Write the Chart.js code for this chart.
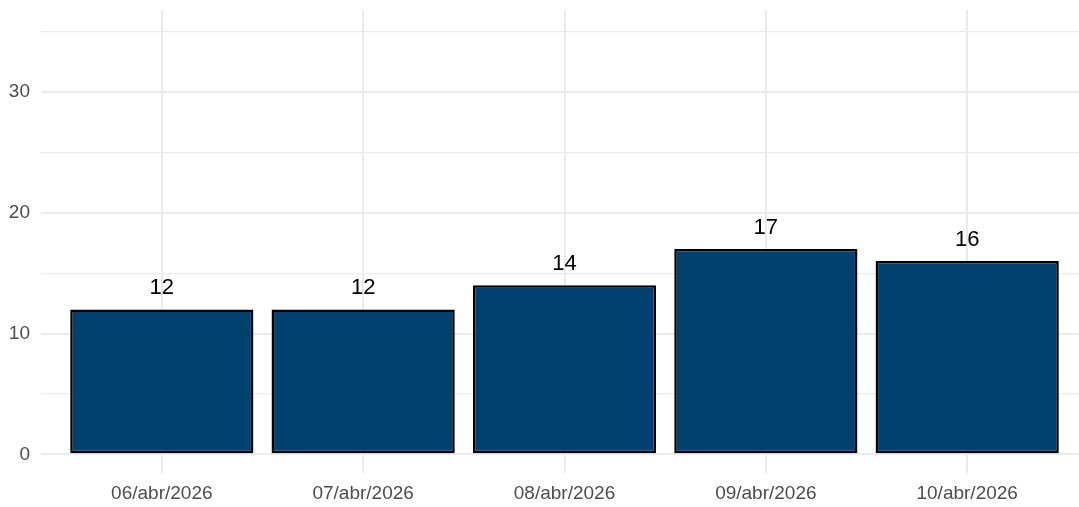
<!DOCTYPE html>
<html>
<head>
<meta charset="utf-8">
<script src="https://cdn.jsdelivr.net/npm/chart.js@4.4.0/dist/chart.umd.min.js"></script>
<style>
  html, body { margin: 0; padding: 0; background: #ffffff; overflow: hidden; }
  #wrap { width: 1079px; height: 507px; overflow: hidden; }
  canvas { display: block; }
</style>
</head>
<body>
<div id="wrap"><canvas id="chart" width="1088" height="507"></canvas></div>
<script>
"use strict";

const categories = ["06/abr/2026", "07/abr/2026", "08/abr/2026", "09/abr/2026", "10/abr/2026"];
const values = [12, 12, 14, 17, 16];
const yTicks = [0, 5, 10, 15, 20, 25, 30, 35];
const yLabelTicks = [0, 10, 20, 30];

const FONT = "'Liberation Sans', Arial, sans-serif";
const GRID = "#ebebeb";

// value labels above the bars
const barLabels = {
  id: "barLabels",
  afterDatasetsDraw(chart) {
    const ctx = chart.ctx;
    const meta = chart.getDatasetMeta(0);
    ctx.save();
    ctx.fillStyle = "#000000";
    ctx.font = "22px " + FONT;
    ctx.textAlign = "center";
    ctx.textBaseline = "alphabetic";
    meta.data.forEach((bar, i) => {
      ctx.fillText(String(values[i]), bar.x, bar.y - 15);
    });
    ctx.restore();
  },
};

const ctx = document.getElementById("chart");

new Chart(ctx, {
  type: "bar",
  data: {
    datasets: [
      {
        data: categories.map((c, i) => ({ x: i + 1, y: values[i] })),
        backgroundColor: "#004170",
        borderColor: "#000000",
        borderWidth: 2.5,
        borderSkipped: false,
        categoryPercentage: 1,
        barPercentage: 0.91,
      },
    ],
  },
  options: {
    responsive: false,
    devicePixelRatio: 1,
    animation: false,
    layout: { padding: { top: 10, right: 0, bottom: 0, left: 0 } },
    plugins: {
      legend: { display: false },
      tooltip: { enabled: false },
    },
    scales: {
      x: {
        type: "linear",
        min: 0.4,
        max: 5.6,
        offset: false,
        afterBuildTicks: (scale) => {
          scale.ticks = categories.map((c, i) => ({ value: i + 1 }));
        },
        afterFit: (scale) => {
          scale.height = 34;
          scale.paddingLeft = 0;
          scale.paddingRight = 0;
        },
        ticks: {
          padding: 9,
          color: "#4d4d4d",
          font: { family: FONT, size: 19 },
          maxRotation: 0,
          autoSkip: false,
          callback: (value) => categories[Math.round(value) - 1] || "",
        },
        grid: { color: GRID, lineWidth: 2, drawTicks: false, offset: false },
        border: { display: false },
      },
      y: {
        min: -1.55,
        max: 36.8,
        afterBuildTicks: (scale) => {
          scale.ticks = yTicks.map((v) => ({ value: v }));
        },
        afterFit: (scale) => {
          scale.width = 41;
          scale.paddingTop = 0;
          scale.paddingBottom = 0;
        },
        ticks: {
          padding: 11,
          color: "#4d4d4d",
          font: { family: FONT, size: 19 },
          callback: (value) => (yLabelTicks.includes(value) ? String(value) : ""),
        },
        grid: {
          color: GRID,
          lineWidth: (c) => (yLabelTicks.includes(c.tick && c.tick.value) ? 2 : 1.2),
          drawTicks: false,
        },
        border: { display: false },
      },
    },
  },
  plugins: [barLabels],
});
</script>
</body>
</html>
